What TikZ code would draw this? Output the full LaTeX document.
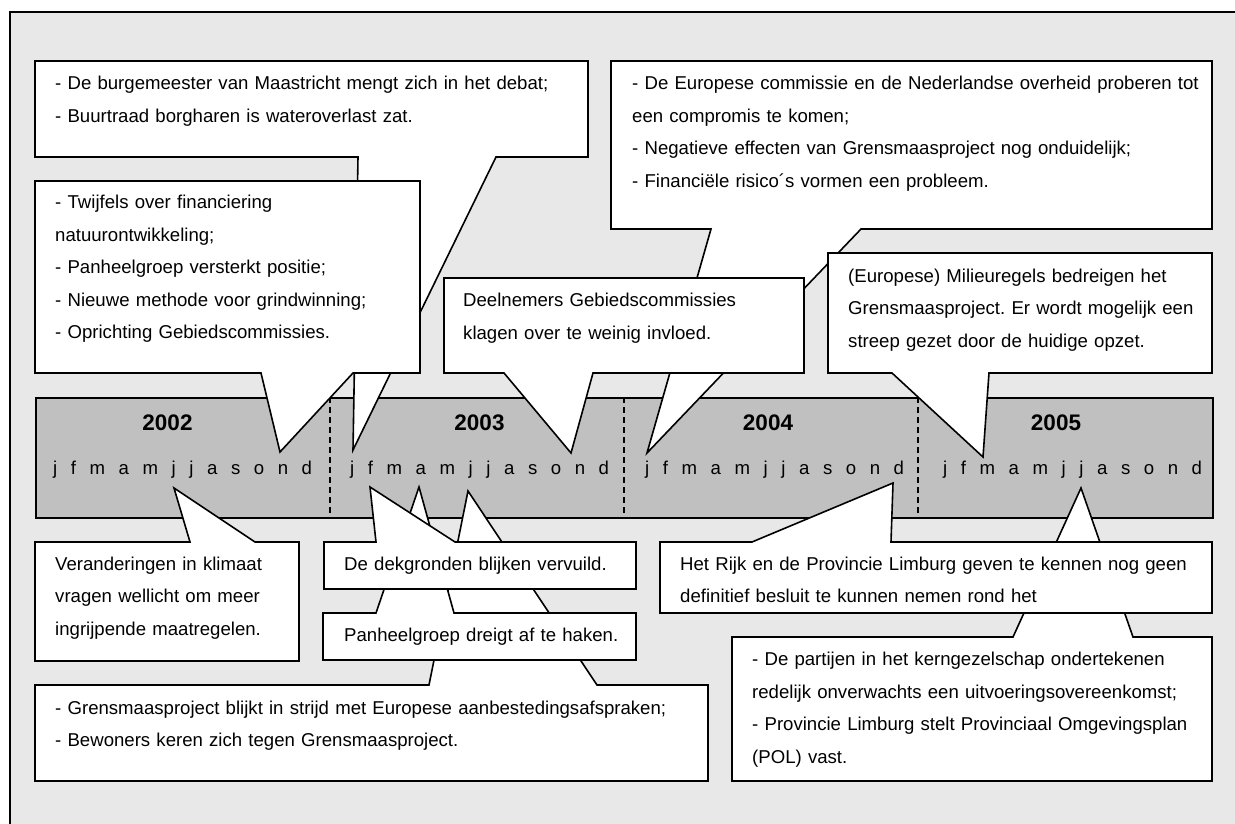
\documentclass[tikz,border=0pt]{standalone}
\usepackage{fontspec}
\setmainfont{Liberation Sans}
\newfontfamily\monthfont[LetterSpace=45.2]{Liberation Sans}
\definecolor{framebg}{HTML}{E8E8E8}
\definecolor{bandgray}{HTML}{C0C0C0}
\frenchspacing
\tikzset{
  framebox/.style={fill=framebg, draw=black, line width=2.6pt},
  bandbox/.style={fill=bandgray, draw=black, line width=1.6pt, inner sep=0pt, anchor=north west},
  sepline/.style={draw=black, line width=1.2pt, dash pattern=on 6pt off 4pt},
  yearlabel/.style={anchor=base, inner sep=0pt, font=\fontsize{22.5}{27}\selectfont\bfseries},
  monthlabel/.style={anchor=base west, inner sep=0pt, font=\monthfont\fontsize{18.6}{22}\selectfont},
  callbox/.style={fill=white, draw=black, line width=1.6pt, line join=miter},
  calltext/.style={anchor=base west, inner sep=0pt, align=left, text width=#1,
    font=\fontsize{18.6}{32.6}\selectfont\frenchspacing},
}
\begin{document}
\begin{tikzpicture}[x=1pt,y=-1pt]
\useasboundingbox (0,0) rectangle (1235,824);
\clip (0,0) rectangle (1235,824);
\fill[white] (0,0) rectangle (1235,824);
\path[framebox] (10,12) rectangle (1260,850);

% timeline band
\node[bandbox, minimum width=1177pt, minimum height=120pt] (band) at (35,397) {};
\draw[sepline] (330,397) -- (330,517);
\draw[sepline] (624,397) -- (624,517);
\draw[sepline] (918,397) -- (918,517);

\node[yearlabel] (y2002) at (167.5,430) {2002};
\node[yearlabel] (y2003) at (479.5,430) {2003};
\node[yearlabel] (y2004) at (768,430) {2004};
\node[yearlabel] (y2005) at (1056,430) {2005};

\node[monthlabel] (m2002) at (53,474) {j f m a m j j a s o n d};
\node[monthlabel] (m2003) at (350,474) {j f m a m j j a s o n d};
\node[monthlabel] (m2004) at (645,474) {j f m a m j j a s o n d};
\node[monthlabel] (m2005) at (943,474) {j f m a m j j a s o n d};

% pointer tips
\coordinate (tA) at (353,450);
\coordinate (tB) at (280,452);
\coordinate (tD) at (571,453);
\coordinate (tE) at (647,453);
\coordinate (tF) at (983,457);
\coordinate (tG) at (174,488);
\coordinate (tH) at (370,487);
\coordinate (tI) at (419,487);
\coordinate (tJ) at (468,491);
\coordinate (tK) at (893,483);
\coordinate (tL) at (1081,488);

% ---- upper callouts ----
\draw[callbox] (35,61) -- (588,61) -- (588,157) -- (496,157) -- (tA) -- (358,157) -- (35,157) -- cycle;
\node[calltext=520pt] (A) at (55,89.5) {- De burgemeester van Maastricht mengt zich in het debat;\\
- Buurtraad borgharen is wateroverlast zat.};

\draw[callbox] (35,181) -- (420,181) -- (420,373) -- (353,373) -- (tB) -- (261,373) -- (35,373) -- cycle;
\node[calltext=350pt] (B) at (55,208.5) {- Twijfels over financiering\\
natuurontwikkeling;\\
- Panheelgroep versterkt positie;\\
- Nieuwe methode voor grindwinning;\\
- Oprichting Gebiedscommissies.};

\draw[callbox] (611,61) -- (1212,61) -- (1212,229) -- (861,229) -- (tE) -- (711,229) -- (611,229) -- cycle;
\node[calltext=570pt] (E) at (632,89.5) {- De Europese commissie en de Nederlandse overheid proberen tot\\
een compromis te komen;\\
- Negatieve effecten van Grensmaasproject nog onduidelijk;\\
- Financiële risico´s vormen een probleem.};

\draw[callbox] (828,253) -- (1212,253) -- (1212,373) -- (989,373) -- (tF) -- (892,373) -- (828,373) -- cycle;
\node[calltext=350pt] (F) at (848,282) {(Europese) Milieuregels bedreigen het\\
Grensmaasproject. Er wordt mogelijk een\\
streep gezet door de huidige opzet.};

\draw[callbox] (444,278) -- (804,278) -- (804,373) -- (593,373) -- (tD) -- (504,373) -- (444,373) -- cycle;
\node[calltext=330pt] (D) at (463,306.5) {Deelnemers Gebiedscommissies\\
klagen over te weinig invloed.};

% ---- lower callouts ----
\draw[callbox] (35,542) -- (190,542) -- (tG) -- (255,542) -- (299,542) -- (299,661) -- (35,661) -- cycle;
\node[calltext=240pt] (G) at (55,570) {Veranderingen in klimaat\\
vragen wellicht om meer\\
ingrijpende maatregelen.};

\draw[callbox] (35,685) -- (429,685) -- (tJ) -- (597,685) -- (708,685) -- (708,781) -- (35,781) -- cycle;
\node[calltext=640pt] (J) at (55,714) {- Grensmaasproject blijkt in strijd met Europese aanbestedingsafspraken;\\
- Bewoners keren zich tegen Grensmaasproject.};

\draw[callbox] (323,613) -- (376,613) -- (tI) -- (454,613) -- (636,613) -- (636,660) -- (323,660) -- cycle;
\node[calltext=285pt] (I) at (344,641.5) {Panheelgroep dreigt af te haken.};

\draw[callbox] (324,542) -- (376,542) -- (tH) -- (455,542) -- (636,542) -- (636,589) -- (324,589) -- cycle;
\node[calltext=285pt] (H) at (344,570.5) {De dekgronden blijken vervuild.};

\draw[callbox] (732,637) -- (1013,637) -- (tL) -- (1133,637) -- (1212,637) -- (1212,781) -- (732,781) -- cycle;
\node[calltext=450pt] (L) at (752,665.5) {- De partijen in het kerngezelschap ondertekenen\\
redelijk onverwachts een uitvoeringsovereenkomst;\\
- Provincie Limburg stelt Provinciaal Omgevingsplan\\
(POL) vast.};

\draw[callbox] (660,542) -- (752,542) -- (tK) -- (891,542) -- (1212,542) -- (1212,613) -- (660,613) -- cycle;
\node[calltext=520pt] (K) at (680,570) {Het Rijk en de Provincie Limburg geven te kennen nog geen\\
definitief besluit te kunnen nemen rond het};
\end{tikzpicture}
\end{document}
